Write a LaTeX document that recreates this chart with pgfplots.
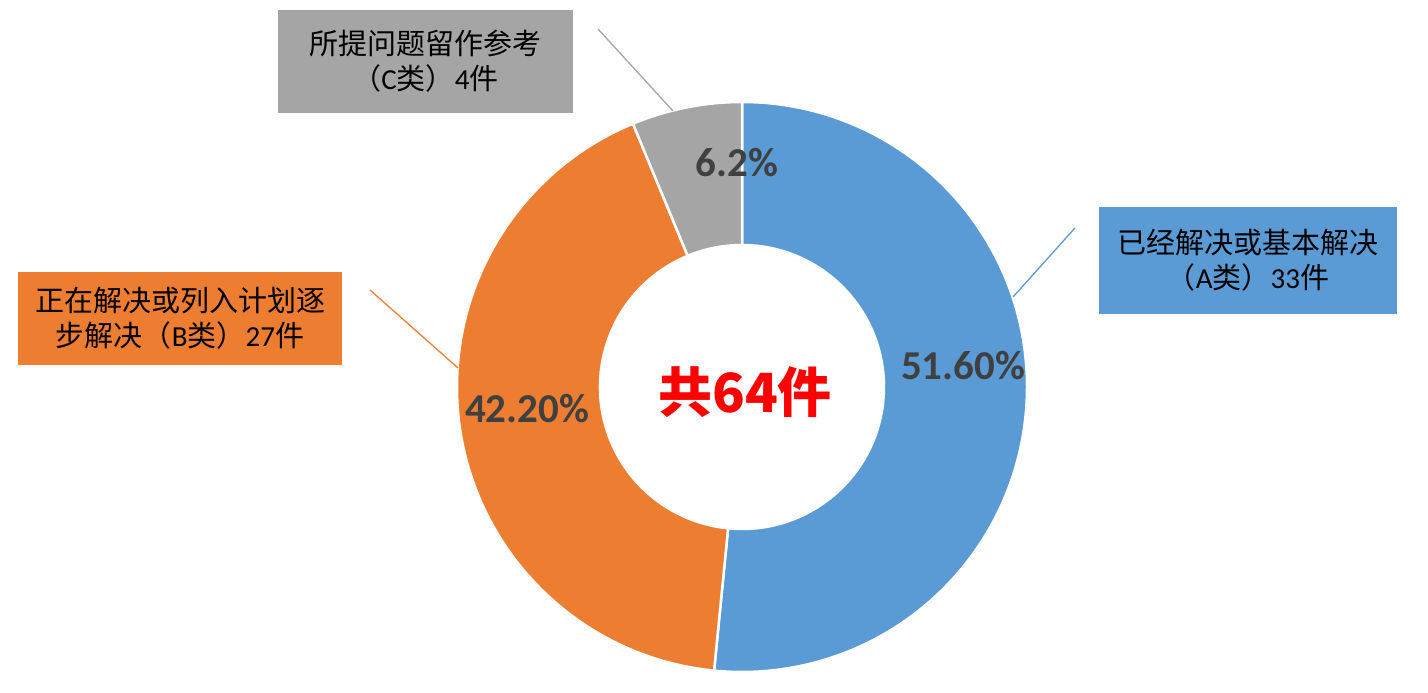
\documentclass[border=0pt]{standalone}
\usepackage{pgfplots}
\pgfplotsset{compat=1.18}
\usepackage{pgfplotstable}
\usepackage{fontspec}
\setmainfont{Carlito}
\newfontfamily\cjk{Noto Sans CJK SC}
\usetikzlibrary{calc}
\definecolor{cA}{HTML}{5B9BD5}
\definecolor{cB}{HTML}{ED7D31}
\definecolor{cC}{HTML}{A5A5A5}
\definecolor{lab}{HTML}{404040}

\pgfplotstableread{
cat value
A 33
B 27
C 4
}\donutdata

\begin{document}
\begin{tikzpicture}
\pgfplotstablegetelem{0}{value}\of\donutdata \pgfmathsetmacro{\va}{\pgfplotsretval}
\pgfplotstablegetelem{1}{value}\of\donutdata \pgfmathsetmacro{\vb}{\pgfplotsretval}
\pgfplotstablegetelem{2}{value}\of\donutdata \pgfmathsetmacro{\vc}{\pgfplotsretval}
\pgfmathsetmacro{\tot}{\va+\vb+\vc}
\pgfmathsetmacro{\aA}{90}
\pgfmathsetmacro{\aB}{90-360*\va/\tot}
\pgfmathsetmacro{\aC}{\aB-360*\vb/\tot}
\pgfmathsetmacro{\aD}{\aC-360*\vc/\tot}
\begin{axis}[width=1428pt,height=693pt,scale only axis,
  xmin=0,xmax=1428,ymin=0,ymax=693,axis lines=none,ticks=none,clip=false]
\path (axis cs:0,0) rectangle (axis cs:1428,693);
\coordinate (O) at (axis cs:742,306);
\filldraw[fill=cA,draw=white,line width=2.5pt] ($(O)+(\aA:285pt)$) arc[start angle=\aA,end angle=\aB,radius=285pt] -- ($(O)+(\aB:142pt)$) arc[start angle=\aB,end angle=\aA,radius=142pt] -- cycle;
\filldraw[fill=cB,draw=white,line width=2.5pt] ($(O)+(\aB:285pt)$) arc[start angle=\aB,end angle=\aC,radius=285pt] -- ($(O)+(\aC:142pt)$) arc[start angle=\aC,end angle=\aB,radius=142pt] -- cycle;
\filldraw[fill=cC,draw=white,line width=2.5pt] ($(O)+(\aC:285pt)$) arc[start angle=\aC,end angle=\aD,radius=285pt] -- ($(O)+(\aD:142pt)$) arc[start angle=\aD,end angle=\aC,radius=142pt] -- cycle;
% leader lines
\draw[cA,line width=1.3pt] (axis cs:1075,465) -- (axis cs:1013,396);
\draw[cB,line width=1.3pt] (axis cs:370,403) -- (axis cs:458,325);
\draw[cC,line width=1.3pt] (axis cs:598,664) -- (axis cs:673,582);
% callout boxes
\node[fill=cA,minimum width=298pt,minimum height=107pt,inner sep=0pt,align=center,font=\fontsize{29}{35}\selectfont] at (axis cs:1248,432.5)
  {{\cjk 已经解决或基本解决}\\{\cjk （}A{\cjk 类）}33{\cjk 件}};
\node[fill=cB,minimum width=324pt,minimum height=93pt,inner sep=0pt,align=center,font=\fontsize{29}{35}\selectfont] at (axis cs:180,374.5)
  {{\cjk 正在解决或列入计划逐}\\{\cjk 步解决（}B{\cjk 类）}27{\cjk 件}};
\node[fill=cC,minimum width=295pt,minimum height=103pt,inner sep=0pt,align=center,font=\fontsize{29}{35}\selectfont] at (axis cs:425.5,631.5)
  {{\cjk 所提问题留作参考}\\{\cjk （}C{\cjk 类）}4{\cjk 件}};
% percentage labels
\node[text=lab,font=\fontsize{41}{41}\selectfont\bfseries] at (axis cs:963,327) {51.60\%};
\node[text=lab,font=\fontsize{41}{41}\selectfont\bfseries] at (axis cs:527,284) {42.20\%};
\node[text=lab,font=\fontsize{41}{41}\selectfont\bfseries] at (axis cs:737,530) {6.2\%};
% centre
\node[text=red,font=\fontsize{54}{54}\selectfont\cjk\bfseries] at (axis cs:745,301) {共64件};
\end{axis}
\end{tikzpicture}
\end{document}
